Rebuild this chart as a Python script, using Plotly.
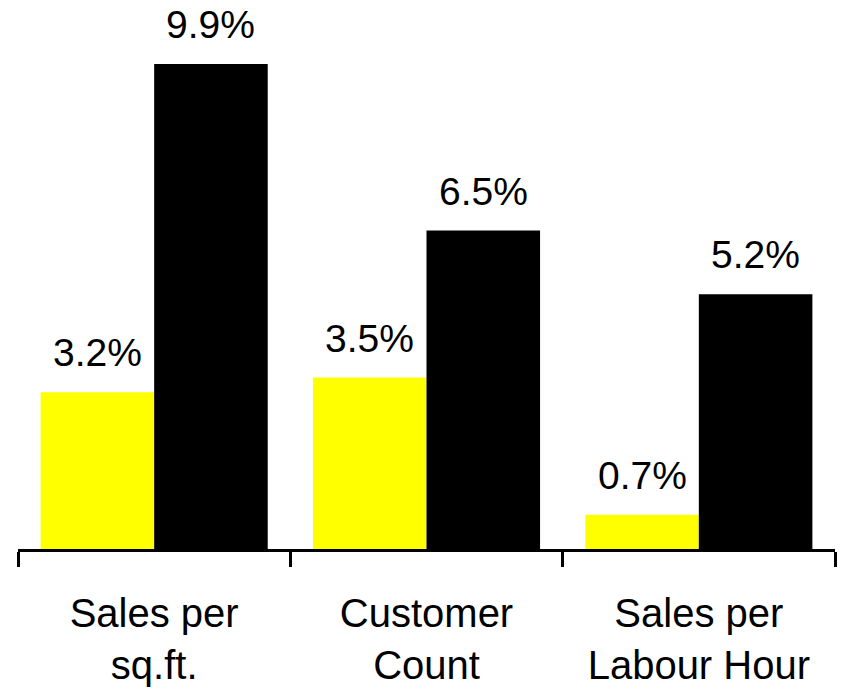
import plotly.graph_objects as go

categories = ["Sales per<br>sq.ft.", "Customer<br>Count", "Sales per<br>Labour Hour"]
series_a = [3.2, 3.5, 0.7]
series_b = [9.9, 6.5, 5.2]
labels_a = ["3.2%", "3.5%", "0.7%"]
labels_b = ["9.9%", "6.5%", "5.2%"]

FONT = "Liberation Sans, Arial, sans-serif"
bargap = 0.166
bw = (1 - bargap) / 2

fig = go.Figure()
fig.add_trace(go.Bar(x=categories, y=series_a, marker=dict(color="#FFFF00", line=dict(width=0)), name="A"))
fig.add_trace(go.Bar(x=categories, y=series_b, marker=dict(color="#000000", line=dict(width=0)), name="B"))

anns = []
for i in range(len(categories)):
    for val, lab, off in ((series_a[i], labels_a[i], -bw / 2), (series_b[i], labels_b[i], bw / 2)):
        anns.append(dict(x=i + off, y=val, xref="x", yref="y", text=lab, showarrow=False,
                         yanchor="bottom", yshift=16, font=dict(size=39, color="black", family=FONT)))

fig.update_layout(
    width=841, height=694,
    margin=dict(l=18, r=6, t=10, b=145),
    paper_bgcolor="white", plot_bgcolor="white",
    barmode="group", bargap=bargap, bargroupgap=0,
    showlegend=False,
    annotations=anns,
    font=dict(family=FONT, color="black"),
)
fig.update_xaxes(
    type="category", showline=True, linecolor="black", linewidth=3,
    ticks="outside", tickson="boundaries", ticklen=15, tickwidth=3, tickcolor="black",
    tickfont=dict(size=40, family=FONT, color="black"), ticklabelstandoff=27,
    showgrid=False, zeroline=False,
)
fig.update_yaxes(range=[0, 11.0], visible=False, showgrid=False, zeroline=False)

fig.write_html("out.html", config={"displayModeBar": False},
               post_script="document.body.style.margin='0';document.body.style.overflow='hidden';")
